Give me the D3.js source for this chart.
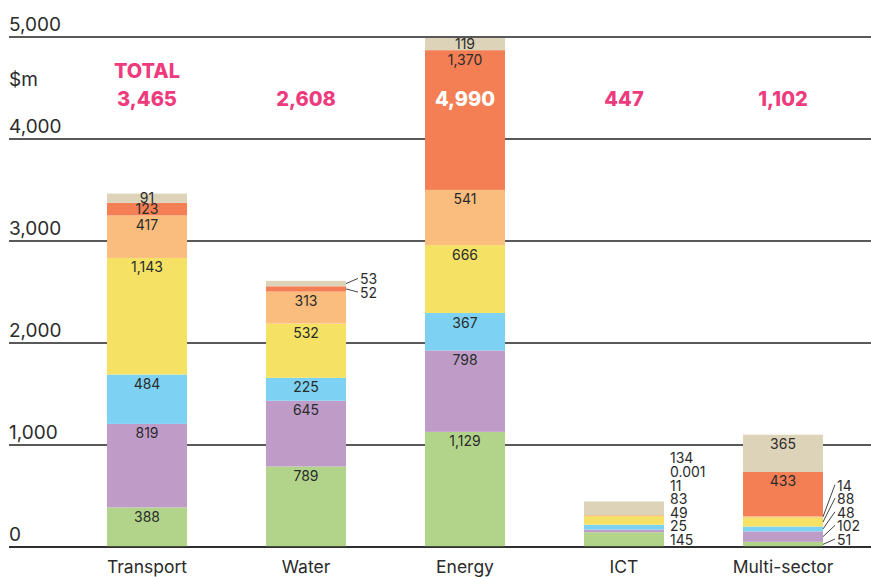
<!DOCTYPE html>
<html>
<head>
<meta charset="utf-8">
<script src="https://cdn.jsdelivr.net/npm/d3@7.9.0/dist/d3.min.js"></script>
<style>
  html, body { margin: 0; padding: 0; background: #fff; }
  svg { display: block; font-family: Inter, "Noto Sans", sans-serif; }
</style>
</head>
<body>
<svg id="chart" width="871" height="577"></svg>
<script>
const categories = ["Transport", "Water", "Energy", "ICT", "Multi-sector"];
const totals = ["3,465", "2,608", "4,990", "447", "1,102"];

// stacked bottom to top
const green = [388, 789, 1129, 145, 51];
const purple = [819, 645, 798, 25, 102];
const blue = [484, 225, 367, 49, 48];
const yellow = [1143, 532, 666, 83, 88];
const lightOrange = [417, 313, 541, 11, 14];
const orange = [123, 52, 1370, 0.001, 433];
const beige = [91, 53, 119, 134, 365];

const yTicks = [0, 1000, 2000, 3000, 4000, 5000];

const seriesList = [green, purple, blue, yellow, lightOrange, orange, beige];
const colors = ["#b2d48a", "#bf9cc8", "#7dd2f4", "#f5e265", "#fbbd7e", "#f47f55", "#ddd3b9"];

// which segments get their label beside the bar
const outside = {
  Water: { idx: [5, 6], anchor: "center", leader: true, gap: 14 },
  ICT: { idx: [0, 1, 2, 3, 4, 5, 6], anchor: "bottom", leader: false, gap: 6 },
  "Multi-sector": { idx: [0, 1, 2, 3, 4], anchor: "bottom", leader: true, gap: 14 },
};

const svg = d3.select("#chart");
const fmt = d3.format(",");
const ink = "#2b2b2b";

const y = d3.scaleLinear().domain([0, 5000]).range([547, 37]);
const x = d3.scaleBand().domain(categories).range([27.5, 902.5]).paddingInner(79 / 159).paddingOuter(0.5);

// gridlines + y labels
const grid = svg.append("g");
yTicks.forEach((t) => {
  grid.append("line")
    .attr("x1", 9).attr("x2", 871)
    .attr("y1", y(t)).attr("y2", y(t))
    .attr("stroke", "#222").attr("stroke-width", 1.4);
  grid.append("text")
    .attr("x", 9).attr("y", y(t) - 6)
    .attr("font-size", 19).attr("fill", ink)
    .text(fmt(t));
});
grid.append("text")
  .attr("x", 9).attr("y", y(4520))
  .attr("font-size", 19).attr("fill", ink)
  .text("$m");

const stack = categories.map((c, i) => {
  let acc = 0;
  return seriesList.map((s, k) => {
    const y0 = acc;
    acc += s[i];
    return { cat: c, k, value: s[i], y0, y1: acc };
  });
});

const bars = svg.append("g");
stack.forEach((segs) => {
  segs.forEach((d) => {
    bars.append("rect")
      .attr("x", x(d.cat))
      .attr("width", x.bandwidth())
      .attr("y", y(d.y1))
      .attr("height", y(d.y0) - y(d.y1))
      .attr("fill", colors[d.k]);
  });
});

// baseline on top of bars
svg.append("line")
  .attr("x1", 9).attr("x2", 871)
  .attr("y1", y(0)).attr("y2", y(0))
  .attr("stroke", "#222").attr("stroke-width", 1.4);

const labels = svg.append("g").attr("font-size", 14).attr("fill", ink);
stack.forEach((segs) => {
  const cat = segs[0].cat;
  const out = outside[cat];
  const cx = x(cat) + x.bandwidth() / 2;
  segs.forEach((d) => {
    if (out && out.idx.includes(d.k)) return;
    const top = y(d.y1);
    const h = y(d.y0) - y(d.y1);
    labels.append("text")
      .attr("x", cx)
      .attr("y", top + Math.min(9.5, h / 2) + 5)
      .attr("text-anchor", "middle")
      .text(fmt(d.value));
  });
  if (!out) return;
  const outSegs = segs.filter((d) => out.idx.includes(d.k));
  const step = 13.6;
  let base;
  if (out.anchor === "bottom") {
    base = y(0) - 7;
  } else {
    const mid = (y(outSegs[0].y0) + y(outSegs[outSegs.length - 1].y1)) / 2;
    base = mid + (step * (outSegs.length - 1)) / 2;
  }
  const right = x(cat) + x.bandwidth();
  outSegs.forEach((d, j) => {
    const ly = base - j * step;
    const tx = right + out.gap;
    if (out.leader) {
      labels.append("line")
        .attr("x1", right).attr("y1", (y(d.y0) + y(d.y1)) / 2)
        .attr("x2", tx - 2).attr("y2", ly - 1)
        .attr("stroke", "#444").attr("stroke-width", 1);
    }
    labels.append("text")
      .attr("x", tx)
      .attr("y", ly + 5)
      .text(fmt(d.value));
  });
});

// totals
const tot = svg.append("g").attr("font-size", 20).attr("font-weight", 800).attr("text-anchor", "middle");
tot.append("text")
  .attr("x", x(categories[0]) + x.bandwidth() / 2)
  .attr("y", 77.5)
  .attr("fill", "#ee3b7e")
  .text("TOTAL");
categories.forEach((c, i) => {
  tot.append("text")
    .attr("x", x(c) + x.bandwidth() / 2)
    .attr("y", 105.5)
    .attr("fill", c === "Energy" ? "#fff" : "#ee3b7e")
    .text(totals[i]);
});

// category labels
svg.append("g").selectAll("text")
  .data(categories)
  .join("text")
  .attr("x", (d) => x(d) + x.bandwidth() / 2)
  .attr("y", 573)
  .attr("text-anchor", "middle")
  .attr("font-size", 17.5)
  .attr("fill", ink)
  .text((d) => d);
</script>
</body>
</html>
